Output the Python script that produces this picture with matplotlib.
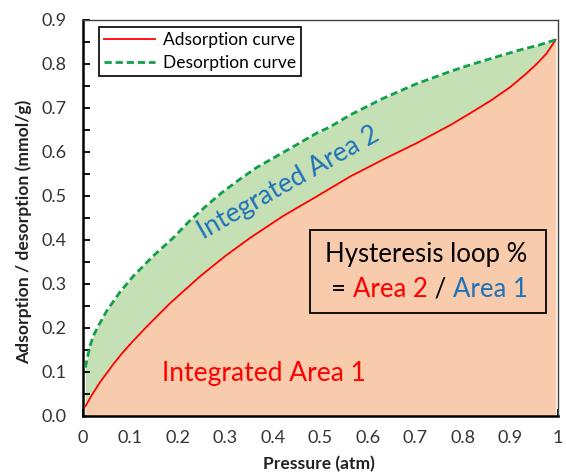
import matplotlib.pyplot as plt
from matplotlib.ticker import MultipleLocator

plt.rcParams['font.family'] = ['Lato', 'DejaVu Sans']

# adsorption branch (red)
p_ads = [0.005, 0.02, 0.036, 0.064, 0.085, 0.106, 0.134, 0.183, 0.246, 0.30,
         0.352, 0.422, 0.492, 0.562, 0.632, 0.702, 0.773, 0.815, 0.86, 0.90,
         0.934, 0.955, 0.976, 0.995]
q_ads = [0.022, 0.05, 0.077, 0.118, 0.146, 0.171, 0.203, 0.256, 0.317, 0.364,
         0.405, 0.455, 0.499, 0.544, 0.583, 0.620, 0.661, 0.688, 0.718, 0.748,
         0.779, 0.80, 0.824, 0.855]

# desorption branch (green dashed)
p_des = [0.005, 0.008, 0.015, 0.022, 0.035, 0.05, 0.078, 0.106, 0.148, 0.19,
         0.225, 0.26, 0.295, 0.33, 0.366, 0.436, 0.492, 0.52, 0.562, 0.632,
         0.702, 0.773, 0.815, 0.87, 0.92, 0.96, 0.995]
q_des = [0.11, 0.127, 0.16, 0.183, 0.21, 0.239, 0.282, 0.318, 0.364, 0.405,
         0.444, 0.478, 0.51, 0.538, 0.565, 0.608, 0.643, 0.657, 0.684, 0.722,
         0.755, 0.783, 0.798, 0.816, 0.832, 0.843, 0.855]

x_ticks = [0, 0.1, 0.2, 0.3, 0.4, 0.5, 0.6, 0.7, 0.8, 0.9, 1.0]
x_labels = ['0', '0.1', '0.2', '0.3', '0.4', '0.5', '0.6', '0.7', '0.8', '0.9', '1']
y_ticks = [0, 0.1, 0.2, 0.3, 0.4, 0.5, 0.6, 0.7, 0.8, 0.9]
y_labels = ['0.0', '0.1', '0.2', '0.3', '0.4', '0.5', '0.6', '0.7', '0.8', '0.9']

orange_fill = '#F8CBAD'
green_fill = '#C5E0B4'
red = '#FF0000'
blue = '#1F72BA'

fig = plt.figure(figsize=(5.66, 4.75), dpi=100)
ax = fig.add_axes([83 / 566, 59 / 475, 475 / 566, 396 / 475])

# areas: orange under adsorption, green up to desorption
ax.fill_between(p_des, 0, q_des, color=green_fill, lw=0, zorder=1)
ax.fill_between(p_ads, 0, q_ads, color=orange_fill, lw=0, zorder=2)

ax.plot(p_ads, q_ads, color=red, lw=1.3, label='Adsorption curve', zorder=3)
ax.plot(p_des, q_des, color='#10A04C', lw=2.0, ls=(0, (2.6, 1.4)),
        label='Desorption curve', zorder=3)

ax.set_xlim(0, 1)
ax.set_ylim(0, 0.9)
ax.set_xticks(x_ticks, x_labels)
ax.set_yticks(y_ticks, y_labels)
ax.xaxis.set_minor_locator(MultipleLocator(0.05))
ax.yaxis.set_minor_locator(MultipleLocator(0.05))
ax.tick_params(which='both', direction='in', length=5, width=1.3, labelsize=13,
               colors='black', labelcolor='#333333')
ax.tick_params(axis='x', pad=10)
ax.tick_params(axis='y', pad=12)
ax.tick_params(which='both', top=False, right=False)

for side in ['left', 'bottom']:
    ax.spines[side].set_linewidth(1.8)
    ax.spines[side].set_color('black')
for side in ['top', 'right']:
    ax.spines[side].set_linewidth(1.0)
    ax.spines[side].set_color('#404040')

ax.set_xlabel('Pressure (atm)', fontsize=12.6, fontweight='bold', color='#222222')
ax.set_ylabel('Adsorption / desorption (mmol/g)', fontsize=12.6, fontweight='bold',
              color='#222222')
ax.xaxis.set_label_coords(0.497, -0.102)
ax.yaxis.set_label_coords(-0.108, 0.465)

leg = ax.legend(loc='upper left', bbox_to_anchor=(0.034, 0.982), borderaxespad=0,
                fontsize=12.5, frameon=True, fancybox=False, handlelength=2.9,
                borderpad=0.3, labelspacing=0.38, handletextpad=0.45)
leg.get_frame().set_edgecolor('black')
leg.get_frame().set_linewidth(1.2)
leg.get_frame().set_facecolor('white')
leg.get_frame().set_alpha(1)

ax.text(0.253, 0.40, 'Integrated Area 2', color=blue, fontsize=19,
        rotation=29.5, ha='left', va='baseline', rotation_mode='anchor', zorder=4)
ax.text(0.381, 0.080, 'Integrated Area 1', color=red, fontsize=19,
        ha='center', va='baseline', zorder=4)

# hysteresis box
ax.add_patch(plt.Rectangle((0.478, 0.233), 0.496, 0.19, fill=False,
                           edgecolor='black', lw=1.3, zorder=4))
ax.text(0.723, 0.349, 'Hysteresis loop %', color='black', fontsize=18.5,
        ha='center', va='baseline', zorder=5)
t1 = ax.text(0.523, 0.271, '= ', color='black', fontsize=18.5, ha='left',
             va='baseline', zorder=5)
t2 = ax.annotate('Area 2', xycoords=t1, xy=(1, 0), va='bottom', color=red,
                 fontsize=18.5, zorder=5)
t3 = ax.annotate(' / ', xycoords=t2, xy=(1, 0), va='bottom', color='black',
                 fontsize=18.5, zorder=5)
ax.annotate('Area 1', xycoords=t3, xy=(1, 0), va='bottom', color=blue,
            fontsize=18.5, zorder=5)

fig.savefig('out.png', dpi=100)
